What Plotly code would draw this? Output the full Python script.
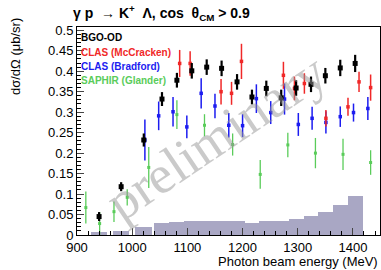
import plotly.graph_objects as go

# BGO-OD
bgo_E = [940, 980, 1021, 1054, 1081, 1108, 1135, 1162, 1190, 1217, 1243, 1270, 1297, 1324, 1350, 1377, 1404]
bgo_val = [0.045, 0.118, 0.232, 0.332, 0.378, 0.401, 0.41, 0.407, 0.374, 0.337, 0.358, 0.335, 0.359, 0.368, 0.389, 0.408, 0.419]
bgo_err = [0.011, 0.011, 0.016, 0.017, 0.018, 0.019, 0.019, 0.019, 0.019, 0.018, 0.019, 0.02, 0.019, 0.019, 0.019, 0.02, 0.021]
# BGO-OD systematic band (histogram)
bgo_sys = [0.007, 0.010, 0.019, 0.030, 0.032, 0.033, 0.035, 0.035, 0.033, 0.030, 0.034, 0.034, 0.038, 0.047, 0.057, 0.073, 0.096]
bgo_binw = [30, 30, 31, 28, 27, 27, 27, 27, 28, 25, 27, 27, 27, 27, 27, 27, 27]

# CLAS (McCracken)
mcc_E = [1086, 1105, 1161, 1180, 1198, 1274, 1294, 1312, 1351, 1391, 1411, 1432]
mcc_val = [0.419, 0.419, 0.35, 0.346, 0.424, 0.39, 0.358, 0.37, 0.285, 0.313, 0.374, 0.36]
mcc_err = [0.033, 0.03, 0.031, 0.028, 0.043, 0.033, 0.029, 0.025, 0.02, 0.022, 0.025, 0.032]

# CLAS (Bradford)
brad_E = [1023, 1048, 1074, 1099, 1125, 1150, 1175, 1200, 1225, 1251, 1276, 1301, 1326, 1351, 1377, 1401, 1427]
brad_val = [0.232, 0.291, 0.301, 0.264, 0.346, 0.315, 0.268, 0.267, 0.333, 0.299, 0.332, 0.27, 0.285, 0.275, 0.289, 0.299, 0.309]
brad_err = [0.05, 0.035, 0.036, 0.028, 0.037, 0.03, 0.03, 0.028, 0.035, 0.028, 0.038, 0.028, 0.028, 0.027, 0.025, 0.022, 0.028]

# SAPHIR (Glander)
sap_E = [916, 941, 967, 991, 1030, 1081, 1131, 1182, 1232, 1282, 1332, 1382, 1432]
sap_val = [0.067, 0.028, 0.057, 0.092, 0.165, 0.294, 0.268, 0.221, 0.148, 0.22, 0.2, 0.197, 0.177]
sap_err = [0.039, 0.028, 0.025, 0.02, 0.05, 0.035, 0.027, 0.027, 0.035, 0.03, 0.037, 0.038, 0.03]

x_ticks = [900, 1000, 1100, 1200, 1300, 1400]

FONT = "Liberation Sans, Arial, sans-serif"
RED = "#f02828"
BLUE = "#1c1cf0"
GREEN = "#5acc5a"

fig = go.Figure()

fig.add_trace(go.Bar(x=bgo_E, y=bgo_sys, width=bgo_binw, marker=dict(color="#a9a7c4", line=dict(width=0)),
                     showlegend=False))

def pts(x, y, e, color, msize, thick, symbol="square"):
    return go.Scatter(x=x, y=y, mode="markers",
                      marker=dict(color=color, size=msize, symbol=symbol, line=dict(width=0)),
                      error_y=dict(type="data", array=e, color=color, thickness=thick, width=0),
                      showlegend=False)

fig.add_trace(pts(sap_E, sap_val, sap_err, GREEN, 3, 1.3))
fig.add_trace(pts(brad_E, brad_val, brad_err, BLUE, 3.5, 1.5))
fig.add_trace(pts(mcc_E, mcc_val, mcc_err, RED, 3.5, 1.5))
fig.add_trace(pts(bgo_E, bgo_val, bgo_err, "black", 5, 2.2))

fig.update_layout(
    width=381, height=270,
    margin=dict(l=77, r=1, t=27, b=35),
    paper_bgcolor="white", plot_bgcolor="white",
    font=dict(family=FONT, color="black", size=13),
    bargap=0,
    xaxis=dict(range=[900, 1449], tickvals=x_ticks, ticks="inside", ticklen=7, tickwidth=1,
               showline=True, linecolor="black", linewidth=1, mirror=True, showgrid=False, zeroline=False,
               minor=dict(ticks="inside", ticklen=4, dtick=20, tick0=900, tickcolor="black"),
               tickfont=dict(size=13, family=FONT)),
    yaxis=dict(range=[0, 0.508], dtick=0.05, ticks="inside", ticklen=7, tickwidth=1,
               showline=True, linecolor="black", linewidth=1, mirror=True, showgrid=False, zeroline=False,
               minor=dict(ticks="inside", ticklen=4, dtick=0.01, tickcolor="black"),
               tickfont=dict(size=13, family=FONT)),
)

ann = []
# watermark
ann.append(dict(text="preliminary", x=1152, y=0.24, xref="x", yref="y", showarrow=False, textangle=-34,
                font=dict(family="Liberation Serif, Times New Roman, serif", size=54, color="rgba(150,150,150,0.5)")))
# title
ann.append(dict(text="<b>γ p  → K<sup>+</sup>  Λ, cos  θ<sub>CM</sub> > 0.9</b>", xref="paper", yref="paper",
                x=-0.02, y=1.0, xanchor="left", yanchor="bottom", yshift=2, showarrow=False,
                font=dict(family=FONT, size=14)))
# axis titles
ann.append(dict(text="dσ/dΩ (μb/sr)", xref="paper", yref="paper", x=-0.205, y=0.86, textangle=-90,
                xanchor="center", yanchor="middle", showarrow=False, font=dict(family=FONT, size=13)))
ann.append(dict(text="Photon beam energy (MeV)", xref="paper", yref="paper", x=1.0, y=-0.128,
                xanchor="right", yanchor="middle", showarrow=False, font=dict(family=FONT, size=13)))
# legend
leg = [("BGO-OD", "black", 37.5), ("CLAS (McCracken)", RED, 52), ("CLAS (Bradford)", BLUE, 66),
       ("SAPHIR (Glander)", GREEN, 80)]
for txt, col, ypx in leg:
    ann.append(dict(text="<b>" + txt + "</b>", xref="paper", yref="paper", x=(79 - 77) / 303,
                    y=(235 - ypx) / 208, xanchor="left", yanchor="middle", showarrow=False,
                    font=dict(family=FONT, size=10, color=col)))
fig.update_layout(annotations=ann)

fig.write_html("out.html", config={"displayModeBar": False, "staticPlot": True},
               post_script="document.body.style.margin='0';document.body.style.padding='0';")
